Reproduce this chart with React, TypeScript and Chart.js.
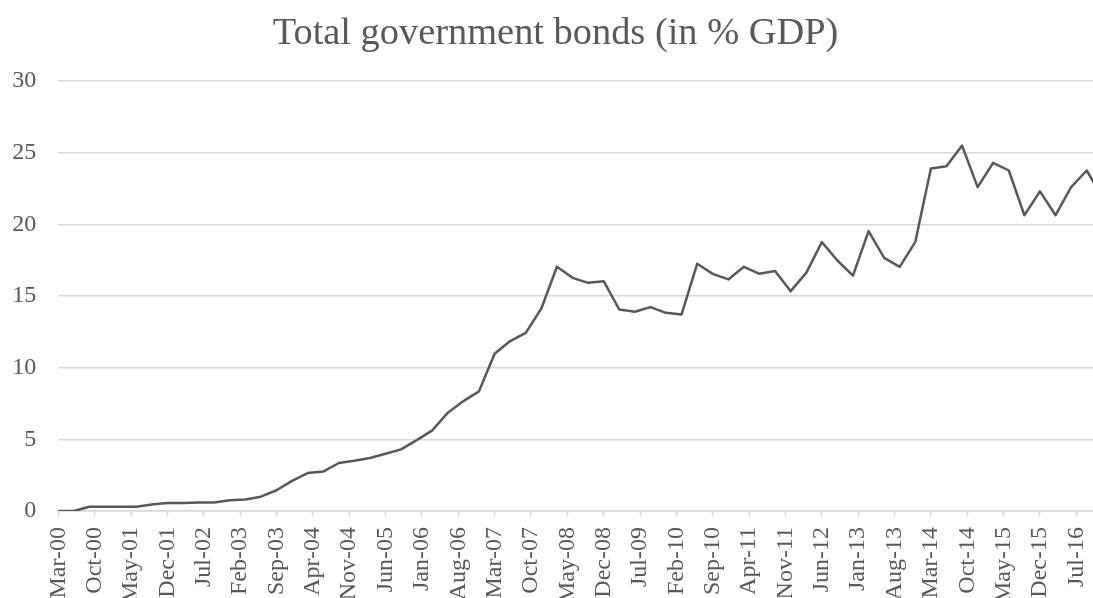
import React, { useEffect, useRef } from "react";
import { Chart, registerables } from "chart.js";

Chart.register(...registerables);

// Quarterly observations (end of quarter)
const quarters = [
  "Mar-00", "Jun-00", "Sep-00", "Dec-00",
  "Mar-01", "Jun-01", "Sep-01", "Dec-01",
  "Mar-02", "Jun-02", "Sep-02", "Dec-02",
  "Mar-03", "Jun-03", "Sep-03", "Dec-03",
  "Mar-04", "Jun-04", "Sep-04", "Dec-04",
  "Mar-05", "Jun-05", "Sep-05", "Dec-05",
  "Mar-06", "Jun-06", "Sep-06", "Dec-06",
  "Mar-07", "Jun-07", "Sep-07", "Dec-07",
  "Mar-08", "Jun-08", "Sep-08", "Dec-08",
  "Mar-09", "Jun-09", "Sep-09", "Dec-09",
  "Mar-10", "Jun-10", "Sep-10", "Dec-10",
  "Mar-11", "Jun-11", "Sep-11", "Dec-11",
  "Mar-12", "Jun-12", "Sep-12", "Dec-12",
  "Mar-13", "Jun-13", "Sep-13", "Dec-13",
  "Mar-14", "Jun-14", "Sep-14", "Dec-14",
  "Mar-15", "Jun-15", "Sep-15", "Dec-15",
  "Mar-16", "Jun-16", "Sep-16", "Dec-16",
];

const bondsPctGdp = [
  0.0, 0.0, 0.3, 0.3,
  0.3, 0.3, 0.45, 0.55,
  0.55, 0.6, 0.6, 0.75,
  0.8, 1.0, 1.45, 2.1,
  2.65, 2.75, 3.35, 3.5,
  3.7, 4.0, 4.3, 4.95,
  5.63, 6.86, 7.67, 8.35,
  10.97, 11.86, 12.43, 14.13,
  17.04, 16.27, 15.92, 16.04,
  14.06, 13.9, 14.23, 13.83,
  13.72, 17.25, 16.55, 16.16,
  17.04, 16.55, 16.74, 15.34,
  16.62, 18.76, 17.48, 16.43,
  19.53, 17.66, 17.04, 18.78,
  23.9, 24.06, 25.5, 22.6,
  24.3, 23.76, 20.64, 22.3,
  20.64, 22.6, 23.76, 21.9,
];

// Axis labels shown every 7 months, starting Mar-00
const tickLabels = [
  "Mar-00", "Oct-00", "May-01", "Dec-01", "Jul-02", "Feb-03", "Sep-03",
  "Apr-04", "Nov-04", "Jun-05", "Jan-06", "Aug-06", "Mar-07", "Oct-07",
  "May-08", "Dec-08", "Jul-09", "Feb-10", "Sep-10", "Apr-11", "Nov-11",
  "Jun-12", "Jan-13", "Aug-13", "Mar-14", "Oct-14", "May-15", "Dec-15",
  "Jul-16",
];

const yTicks = [0, 5, 10, 15, 20, 25, 30];

const TITLE = "Total government bonds (in % GDP)";
const FONT = "'Liberation Serif', 'Times New Roman', serif";
const TEXT = "#595959";
const GRID = "#d9d9d9";

export default function App() {
  const ref = useRef<HTMLCanvasElement | null>(null);

  useEffect(() => {
    if (!ref.current) return;
    const points = quarters.map((_, i) => ({ x: i * 3, y: bondsPctGdp[i] }));
    const lastMonth = (quarters.length - 1) * 3;

    const chart = new Chart(ref.current, {
      type: "line",
      data: {
        datasets: [
          {
            label: TITLE,
            data: points,
            borderColor: "#595959",
            borderWidth: 2.5,
            borderJoinStyle: "round",
            borderCapStyle: "round",
            pointRadius: 0,
            tension: 0,
            fill: false,
          },
        ],
      },
      options: {
        responsive: false,
        animation: false,
        devicePixelRatio: 1,
        layout: { padding: { left: 8.7, right: 8.7, top: 0, bottom: 0 } },
        plugins: {
          legend: { display: false },
          tooltip: { enabled: false },
          title: {
            display: true,
            text: TITLE,
            color: TEXT,
            font: { family: FONT, size: 38.4, weight: "normal" },
            padding: { top: 11, bottom: 24 },
          },
        },
        scales: {
          x: {
            type: "linear",
            min: 0,
            max: lastMonth,
            afterBuildTicks: (scale: any) => {
              scale.ticks = tickLabels.map((_, j) => ({ value: j * 7 }));
            },
            afterFit: (scale: any) => {
              scale.paddingLeft = 0;
              scale.paddingRight = 0;
              scale.height = 90;
            },
            ticks: {
              autoSkip: false,
              minRotation: 90,
              maxRotation: 90,
              padding: 10,
              color: TEXT,
              font: { family: FONT, size: 24 },
              callback: (_v: any, index: number) => tickLabels[index],
            },
            grid: {
              drawOnChartArea: false,
              drawTicks: true,
              tickLength: 6,
              tickColor: GRID,
              tickWidth: 1.5,
            },
            border: { display: true, color: GRID, width: 1.5 },
          },
          y: {
            min: 0,
            max: 30,
            afterBuildTicks: (scale: any) => {
              scale.ticks = yTicks.map((v) => ({ value: v }));
            },
            afterFit: (scale: any) => {
              scale.width = 49.6;
            },
            ticks: {
              color: TEXT,
              padding: 22,
              font: { family: FONT, size: 24 },
            },
            grid: {
              color: GRID,
              lineWidth: 1.5,
              drawTicks: false,
            },
            border: { display: false },
          },
        },
      },
    });
    return () => chart.destroy();
  }, []);

  return (
    <div
      style={{
        position: "absolute",
        left: 0,
        top: 0,
        width: 1093,
        height: 598,
        overflow: "hidden",
        background: "#fff",
      }}
    >
      <canvas ref={ref} width={1111} height={601} style={{ display: "block" }} />
    </div>
  );
}
